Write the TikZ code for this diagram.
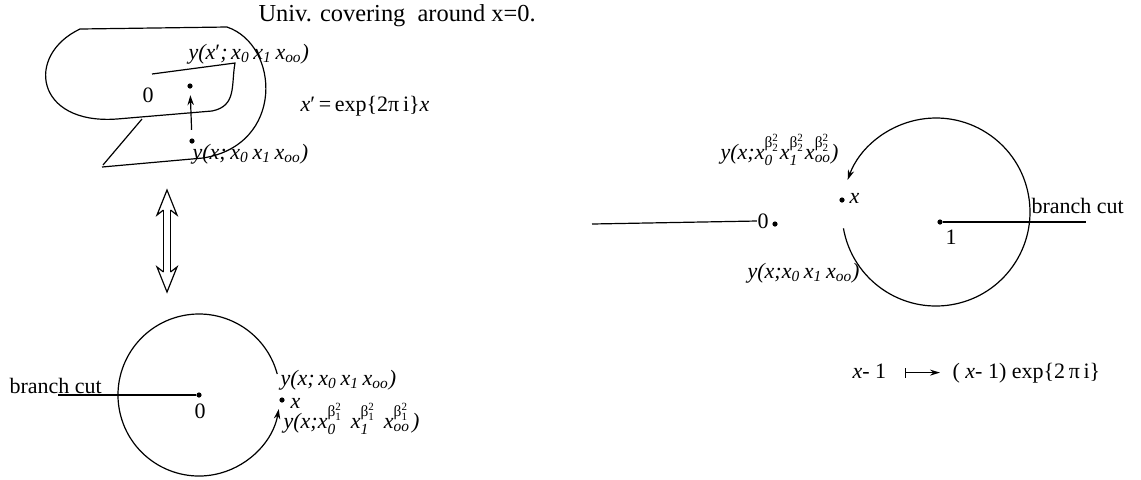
\documentclass[tikz,border=0pt]{standalone}
\usepackage{amsmath}
\usepackage{fontspec}
\setmainfont{Liberation Serif}
\usetikzlibrary{arrows.meta}
\newcommand\xs[1]{\textit{x}\ensuremath{_{\text{\itshape #1}}}}
\newcommand\xb[2]{\textit{x}\ensuremath{_{\text{\itshape #1}}^{\text{β}_{\text{#2}}^{\text{2}}}}}
\begin{document}
\begin{tikzpicture}[x=0.5pt,y=-0.5pt, line width=0.6pt,
  every node/.style={font=\fontsize{11}{13}\selectfont, inner sep=0pt},
  dot/.style={circle,fill,inner sep=0pt,minimum size=2.6pt},
  lbl/.style={anchor=base west},
  tip/.style={-{Stealth[length=5pt,width=3.2pt]}}]
\useasboundingbox (0,0) rectangle (1141,479);

% ---------- top-left: universal covering sheet ----------
\draw (152,74) -- (235,63) .. controls (231,85) and (237,106) .. (212,111) -- (117,119)
      .. controls (35,125) and (25,55) .. (80,29) -- (227,27)
      .. controls (280,45) and (285,145) .. (203,158) -- (102,167);
\draw (103,165) -- (142,119);
\node[dot] (p1) at (190,86) {};
\node[dot] (p0) at (192,141) {};
\draw[tip, shorten <=4pt, shorten >=3pt] (p0) -- (p1);
\node (z0) at (148,95) {0};

\node[lbl, font=\fontsize{12.2}{14}\selectfont] (title) at (258,21) {Univ. covering~ around x=0.};
\node[lbl] (ly1) at (188,59) {\textit{y(x}′\textit{;}\,\xs{0}\,\xs{1}\,\xs{oo}\textit{)}};
\node[lbl] (eq) at (300,111) {\textit{x}′\,=\,exp\{2π\,i\}\textit{x}};
\node[lbl] (ly0) at (192,159) {\textit{y(x;}\,\xs{0}\,\xs{1}\,\xs{oo}\textit{)}};

% ---------- double arrow ----------
\coordinate (da) at (167,190);
\coordinate (db) at (167,292);
\draw ([shift={(-3.5,20)}]da) -- ([shift={(-10,25)}]da) -- (da) -- ([shift={(10,25)}]da) -- ([shift={(3.5,20)}]da);
\draw ([shift={(-3.5,-20)}]db) -- ([shift={(-10,-25)}]db) -- (db) -- ([shift={(10,-25)}]db) -- ([shift={(3.5,-20)}]db);
\draw ([shift={(-3.5,20)}]da) -- ([shift={(-3.5,-20)}]db);
\draw ([shift={(3.5,20)}]da) -- ([shift={(3.5,-20)}]db);

% ---------- bottom-left: circle around 0 ----------
\node[dot] (c0) at (199,395) {};
\node (l0) at (200,411) {0};
\coordinate (bc0) at (58,395);
\draw (bc0) -- (c0);
\node[lbl] (bcl) at (9,393) {branch cut};
\draw[tip] ([shift={(-15:81)}]c0.center) arc[start angle=-15,end angle=-350,radius=81];
\node[dot] (xa) at (282,400) {};
\node[lbl] (xal) at (290,408) {\textit{x}};
\node[lbl] (la1) at (280,385) {\textit{y(x;}\,\xs{0}\,\xs{1}\,\xs{oo}\textit{)}};
\node[lbl] (la2) at (283,428) {\textit{y(x;}\xb{0}{1}\hspace{4pt}\xb{1}{1}\hspace{4pt}\xb{oo}{1}\hspace{1pt}\textit{)}};

% ---------- right: circle around 1 ----------
\coordinate (bl) at (592,224);
\node (zr) at (763,221) {0};
\node[dot] (c0r) at (775,224) {};
\draw (bl) -- (zr.west);
\node[dot] (xr) at (842,200) {};
\node[lbl] (xrl) at (849,203) {\textit{x}};
\node[dot] (c1) at (940,222) {};
\node (l1) at (951,237) {1};
\coordinate (bcr) at (1086,222);
\draw (c1) -- (bcr);
\node[lbl] (bcrl) at (1031,213) {branch cut};
\coordinate (o1) at (936,212);
\draw[tip] ([shift={(-190:94)}]o1) arc[start angle=-190,end angle=-520,radius=94];
\node[lbl] (lr1) at (720,159) {\textit{y(x;}\xb{0}{2}\xb{1}{2}\xb{oo}{2}\textit{)}};
\node[lbl] (lr0) at (747,278) {\textit{y(x;}\xs{0}\,\xs{1}\,\xs{oo}\textit{)}};

% ---------- map ----------
\node[lbl] (m1) at (852,378) {\textit{x}- 1};
\node[lbl] (m2) at (952,378) {( \textit{x}- 1) exp\{2\,π\,i\}};
\draw[{Bar[width=5pt]}-{Stealth[length=5pt,width=3pt]}] ([shift={(9pt,2.7pt)}]m1.base east) -- ([shift={(-6pt,2.7pt)}]m2.base west);
\end{tikzpicture}
\end{document}
